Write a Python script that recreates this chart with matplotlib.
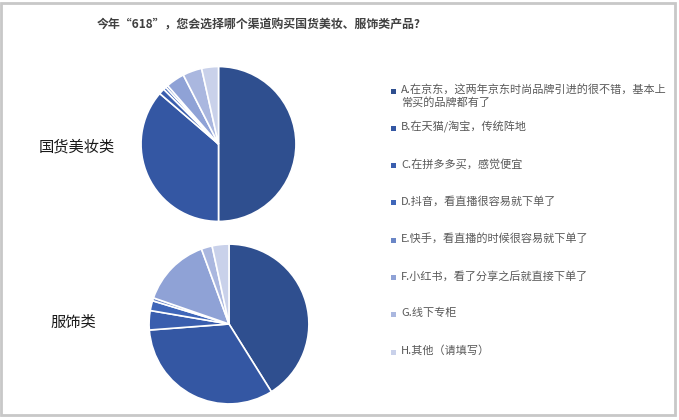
import matplotlib.pyplot as plt
from matplotlib.patches import Rectangle

plt.rcParams['font.family'] = ['Noto Sans CJK SC', 'DejaVu Sans']

title = '今年“618”，您会选择哪个渠道购买国货美妆、服饰类产品?'
groups = ['国货美妆类', '服饰类']
options = [
    'A.在京东，这两年京东时尚品牌引进的很不错，基本上\n常买的品牌都有了',
    'B.在天猫/淘宝，传统阵地',
    'C.在拼多多买，感觉便宜',
    'D.抖音，看直播很容易就下单了',
    'E.快手，看直播的时候很容易就下单了',
    'F.小红书，看了分享之后就直接下单了',
    'G.线下专柜',
    'H.其他（请填写）',
]
cosmetics = [50.0, 36.3, 1.2, 0.6, 0.5, 3.9, 4.0, 3.5]
clothing = [41.1, 32.7, 3.9, 2.0, 0.6, 14.1, 2.2, 3.4]
colors = ['#2f4f8f', '#3457a3', '#3a5eae', '#3f66b9', '#6a86c6', '#8fa2d6', '#aab7df', '#c9d1ea']

W, H = 679, 420
fig = plt.figure(figsize=(W / 100, H / 100), dpi=100)
fig.patches.append(Rectangle((1 / W, 5 / H), 674 / W, 412 / H, transform=fig.transFigure,
                             fill=False, edgecolor='#c8c8c8', linewidth=2))

fig.text(259 / W, 1 - 25 / H, title, ha='center', va='center', fontsize=8.6,
         fontweight='bold', color='#404040')

# pie centres and radii in pixels
pies = [(cosmetics, 218.5, 144, 79), (clothing, 229, 324, 81.5)]
label_pos = [(77, 147), (73, 322)]
for (vals, cx, cy, r), name, (lx, ly) in zip(pies, groups, label_pos):
    ax = fig.add_axes([(cx - r) / W, (H - cy - r) / H, 2 * r / W, 2 * r / H])
    ax.pie(vals, colors=colors, startangle=90, counterclock=False, radius=1,
           wedgeprops=dict(edgecolor='white', linewidth=1.2))
    ax.set_xlim(-1.02, 1.02)
    ax.set_ylim(-1.02, 1.02)
    ax.axis('off')
    fig.text(lx / W, 1 - ly / H, name, ha='center', va='center', fontsize=11, color='#1a1a1a')

# legend
for i, (lab, c) in enumerate(zip(options, colors)):
    y = 91 + i * 37.3
    fig.patches.append(Rectangle((391 / W, 1 - (y + 2.5) / H), 5 / W, 5 / H,
                                 transform=fig.transFigure, facecolor=c, edgecolor='none'))
    fig.text(401 / W, 1 - (y - 7) / H, lab, ha='left', va='top', fontsize=8,
             color='#595959', linespacing=1.25)

fig.savefig('out.png', dpi=100, facecolor='white')
